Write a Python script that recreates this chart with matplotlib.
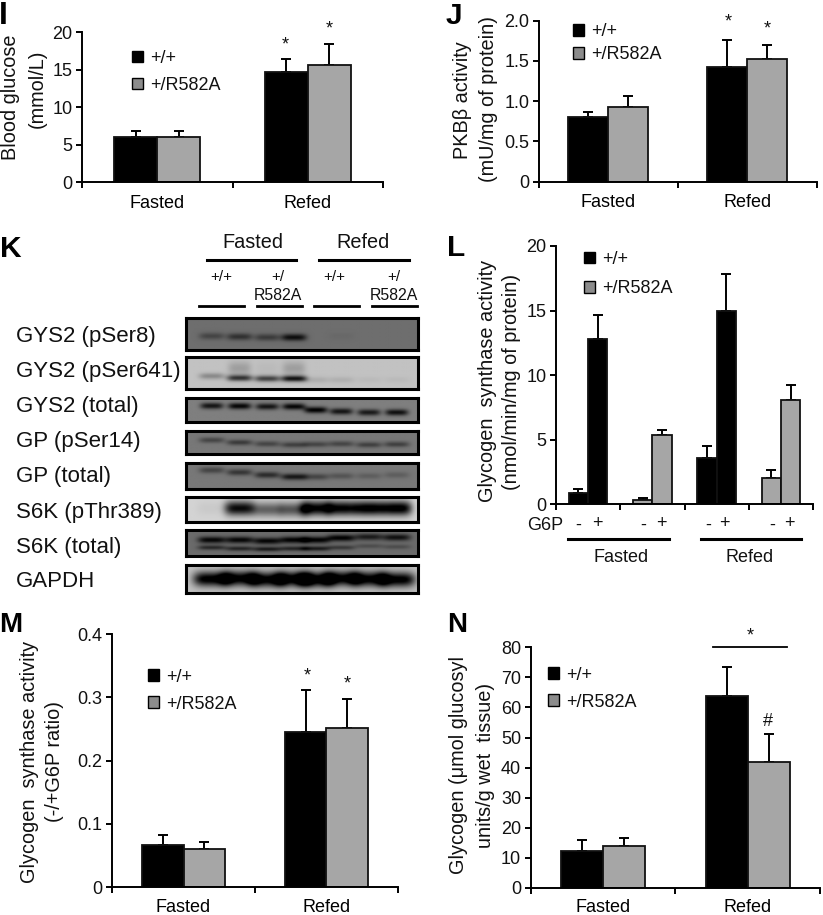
import numpy as np
import matplotlib
matplotlib.use("Agg")
import matplotlib.pyplot as plt
from matplotlib.patches import Patch

plt.rcParams['font.family'] = ['Liberation Sans', 'DejaVu Sans']
plt.rcParams['text.color'] = '#111111'

W, H = 823, 915
BLACK = '#000000'
GREY = '#a6a6a6'

groups = ['Fasted', 'Refed']
legend_labels = ['+/+', '+/R582A']

# bar heights and the tops of the error bars
i_wt = [6.0, 14.7]
i_mut = [6.1, 15.6]
i_wt_top = [6.85, 16.4]
i_mut_top = [6.85, 18.5]

j_wt = [0.80, 1.42]
j_mut = [0.93, 1.53]
j_wt_top = [0.87, 1.76]
j_mut_top = [1.06, 1.70]

l_vals = [0.85, 12.8, 0.3, 5.35, 3.6, 14.95, 2.05, 8.1]
l_tops = [1.2, 14.65, 0.5, 5.75, 4.5, 17.85, 2.6, 9.25]
l_cols = [BLACK, BLACK, GREY, GREY, BLACK, BLACK, GREY, GREY]

m_wt = [0.066, 0.245]
m_mut = [0.060, 0.251]
m_wt_top = [0.082, 0.312]
m_mut_top = [0.071, 0.298]

n_wt = [12.3, 63.7]
n_mut = [13.9, 42.0]
n_wt_top = [15.8, 73.4]
n_mut_top = [16.6, 51.2]

# western blot: band strength and height in each of the 8 lanes
blot_names = ['GYS2 (pSer8)', 'GYS2 (pSer641)', 'GYS2 (total)', 'GP (pSer14)',
              'GP (total)', 'S6K (pThr389)', 'S6K (total)', 'GAPDH']
lanes = [0.11, 0.23, 0.35, 0.465, 0.56, 0.67, 0.79, 0.91]

pser8_amp = [0.16, 0.24, 0.2, 0.38, 0.0, 0.02, 0.0, 0.0]
pser8_y = [0.6, 0.62, 0.64, 0.64, 0.6, 0.6, 0.6, 0.6]
pser641_amp = [0.22, 0.55, 0.5, 0.68, 0.08, 0.07, 0.03, 0.03]
pser641_y = [0.6, 0.66, 0.68, 0.68, 0.72, 0.72, 0.72, 0.72]
pser641_smear = [0.0, 0.14, 0.03, 0.14, 0.0, 0.0, 0.0, 0.0]
gys_amp = [0.42, 0.48, 0.42, 0.48, 0.5, 0.42, 0.4, 0.44]
gys_y = [0.35, 0.36, 0.38, 0.38, 0.52, 0.58, 0.62, 0.62]
gp14_amp = [0.2, 0.24, 0.2, 0.22, 0.2, 0.2, 0.22, 0.22]
gp14_y = [0.42, 0.52, 0.58, 0.62, 0.6, 0.58, 0.62, 0.6]
gp_amp = [0.2, 0.26, 0.3, 0.38, 0.2, 0.14, 0.1, 0.1]
gp_y = [0.3, 0.38, 0.48, 0.55, 0.55, 0.52, 0.52, 0.48]
pthr_amp = [0.04, 0.8, 0.45, 0.5, 0.85, 0.85, 0.9, 0.9]
pthr_y = [0.45, 0.45, 0.5, 0.5, 0.45, 0.45, 0.45, 0.45]
s6k_top_amp = [0.4, 0.4, 0.4, 0.42, 0.42, 0.42, 0.32, 0.36]
s6k_top_y = [0.38, 0.38, 0.42, 0.38, 0.38, 0.3, 0.26, 0.28]
s6k_low_amp = [0.26, 0.28, 0.32, 0.28, 0.32, 0.2, 0.12, 0.12]
s6k_low_y = [0.68, 0.72, 0.74, 0.72, 0.72, 0.68, 0.62, 0.65]
gapdh_amp = [0.82, 0.82, 0.82, 0.82, 0.82, 0.82, 0.82, 0.82]
gapdh_y = [0.5, 0.48, 0.52, 0.5, 0.52, 0.48, 0.5, 0.52]

fig = plt.figure(figsize=(W / 100, H / 100), dpi=100)


def put(x, y, s, size=13, **kw):
    kw.setdefault('ha', 'center')
    kw.setdefault('va', 'center')
    return fig.text(x / W, 1 - y / H, s, fontsize=size, **kw)


def line(x0, x1, y, lw=2.2):
    fig.add_artist(plt.Line2D([x0 / W, x1 / W], [1 - y / H, 1 - y / H], color=BLACK, lw=lw))


def make_axes(x0, x1, y_zero, y_top, ymax, yticks, ticklabels, ngroups=2):
    ax = fig.add_axes([x0 / W, 1 - y_zero / H, (x1 - x0) / W, (y_zero - y_top) / H])
    ax.set_xlim(0, ngroups)
    ax.set_ylim(0, ymax)
    ax.patch.set_alpha(0)
    for s in ['top', 'right']:
        ax.spines[s].set_visible(False)
    for s in ['left', 'bottom']:
        ax.spines[s].set_linewidth(1.4)
    ax.set_yticks(yticks)
    ax.set_yticklabels(ticklabels)
    ax.set_xticks(range(ngroups + 1))
    ax.set_xticklabels([])
    ax.tick_params(axis='both', length=4, width=1.4, labelsize=13, pad=3, labelcolor='#111111')
    return ax


def two_bars(ax, wt, mut, wt_top, mut_top, width, pad=9):
    x = np.arange(len(groups)) + 0.5
    for xs, vals, tops, col in [(x - width / 2, wt, wt_top, BLACK), (x + width / 2, mut, mut_top, GREY)]:
        vals = np.array(vals)
        ax.errorbar(xs, vals, yerr=[np.zeros(len(vals)), np.array(tops) - vals], fmt='none',
                    ecolor=BLACK, elinewidth=1.4, capsize=3.6, capthick=1.4, zorder=1)
        ax.bar(xs, vals, width, color=col, edgecolor='#111111', linewidth=1.3, zorder=2)
    ax.set_xticks(x, minor=True)
    ax.set_xticklabels(groups, minor=True)
    ax.tick_params(axis='x', which='minor', length=0, labelsize=13, pad=pad)


def add_legend(ax, x, y, spacing):
    handles = [Patch(facecolor=BLACK, edgecolor=BLACK, linewidth=1.0),
               Patch(facecolor='#8c8c8c', edgecolor=BLACK, linewidth=1.0)]
    ax.legend(handles, legend_labels, loc='upper left', bbox_to_anchor=(x / W, 1 - y / H),
              bbox_transform=fig.transFigure, frameon=False, fontsize=13, handlelength=0.62,
              handleheight=0.62, handletextpad=0.4, borderpad=0, borderaxespad=0,
              labelspacing=spacing)


# panel I
ax = make_axes(82.3, 382.7, 182.3, 32.3, 20, [0, 5, 10, 15, 20], ['0', '5', '10', '15', '20'])
two_bars(ax, i_wt, i_mut, i_wt_top, i_mut_top, 43 / 150)
add_legend(ax, 132, 50, 0.55)
put(11, 97.5, 'Blood glucose', 14.3, rotation=90)
put(37, 89, '(mmol/L)', 14.3, rotation=90)
put(285.7, 45, '*')
put(329, 29, '*')

# panel J
ax = make_axes(539, 816.7, 181.7, 20.7, 2.0, [0, 0.5, 1.0, 1.5, 2.0], ['0', '0.5', '1.0', '1.5', '2.0'])
two_bars(ax, j_wt, j_mut, j_wt_top, j_mut_top, 40 / 139)
add_legend(ax, 572.7, 23.5, 0.31)
put(462.7, 100, 'PKBβ activity', 14.3, rotation=90)
put(488.7, 99, '(mU/mg of protein)', 14.3, rotation=90)
put(728, 22, '*')
put(767, 29, '*')

# panel K
for name, bg, bands, top, bottom, base in [
    (blot_names[0], 0.43, [(pser8_amp, pser8_y, 0.11, 0.055)], 316.7, 351, 341.7),
    (blot_names[1], 0.76, [(pser641_amp, pser641_y, 0.1, 0.055), (pser641_smear, [0.35] * 8, 0.22, 0.05)], 356, 390.7, 376.7),
    (blot_names[2], 0.5, [(gys_amp, gys_y, 0.13, 0.05)], 396, 423, 411.7),
    (blot_names[3], 0.47, [(gp14_amp, gp14_y, 0.12, 0.055)], 429, 455.7, 446.7),
    (blot_names[4], 0.47, [(gp_amp, gp_y, 0.12, 0.055)], 461, 490.3, 481.7),
    (blot_names[5], 0.83, [(pthr_amp, pthr_y, 0.3, 0.065)], 495.7, 523.3, 517.7),
    (blot_names[6], 0.42, [(s6k_top_amp, s6k_top_y, 0.13, 0.06), (s6k_low_amp, s6k_low_y, 0.09, 0.06)], 528.3, 557.3, 552.7),
    (blot_names[7], 0.76, [(gapdh_amp, gapdh_y, 0.27, 0.08)], 563.7, 594, 587.3),
]:
    ax = fig.add_axes([185.5 / W, 1 - (bottom - 1.5) / H, 232 / W, (bottom - top - 3) / H])
    yy, xx = np.mgrid[0:1:40j, 0:1:240j]
    img = np.full(xx.shape, bg)
    for amps, ys, thick, wide in bands:
        for lx, a, yc in zip(lanes, amps, ys):
            img -= a * np.exp(-((xx - lx) / wide) ** 4) * np.exp(-((yy - yc) / thick) ** 2)
    ax.imshow(np.clip(img, 0, 1), cmap='gray', vmin=0, vmax=1, aspect='auto',
              extent=[0, 1, 1, 0], interpolation='bilinear')
    ax.set_xticks([])
    ax.set_yticks([])
    for s in ax.spines.values():
        s.set_linewidth(2.2)
    put(16.3, base, name, 16, ha='left', va='baseline')

put(252.7, 243, groups[0], 14.3)
put(363, 243, groups[1], 14.3)
line(206.7, 296, 260)
line(319, 408.7, 260)
put(221.7, 276.7, '+/+', 11)
put(278, 276.7, '+/', 11)
put(278, 295.7, 'R582A', 11.4)
put(334.5, 276.7, '+/+', 11)
put(394, 276.7, '+/', 11)
put(394, 295.7, 'R582A', 11.4)
for x0, x1 in [(199, 243.7), (257, 301.7), (314, 358.7), (371.7, 416.7)]:
    line(x0, x1, 306.3, 2.0)

# panel L
ax = make_axes(556, 813, 504, 246, 20, [0, 5, 10, 15, 20], ['0', '5', '10', '15', '20'], ngroups=4)
lw = 0.30
lx = np.array([g + 0.5 + s * lw / 2 for g in range(4) for s in (-1, 1)])
l_arr = np.array(l_vals)
ax.errorbar(lx, l_arr, yerr=[np.zeros(8), np.array(l_tops) - l_arr], fmt='none', ecolor=BLACK,
            elinewidth=1.4, capsize=3.6, capthick=1.4, zorder=1)
ax.bar(lx, l_arr, lw, color=l_cols, edgecolor='#111111', linewidth=1.3, zorder=2)
add_legend(ax, 584, 251, 0.68)
put(487, 381, 'Glycogen  synthase activity', 14.3, rotation=90)
put(512, 381.7, '(nmol/min/mg of protein)', 14.3, rotation=90)
put(563, 526, 'G6P', 13, ha='right')
for x in [578, 643, 708, 772]:
    put(x, 525, '-')
for x in [597, 661, 724, 789]:
    put(x, 524, '+')
line(568, 669, 539)
line(700.7, 800.7, 539)
put(620.7, 557.5, groups[0])
put(750, 557.5, groups[1])

# panel M
ax = make_axes(112, 398, 887, 634.3, 0.4, [0, 0.1, 0.2, 0.3, 0.4], ['0', '0.1', '0.2', '0.3', '0.4'])
two_bars(ax, m_wt, m_mut, m_wt_top, m_mut_top, 41.5 / 143)
add_legend(ax, 148, 668.5, 0.56)
put(30, 761.7, 'Glycogen  synthase activity', 14.3, rotation=90)
put(55, 762, '(-/+G6P ratio)', 14.3, rotation=90)
put(307, 676, '*')
put(347, 684, '*')

# panel N
ax = make_axes(530.7, 820, 888, 647.3, 80, range(0, 90, 10), [str(v) for v in range(0, 90, 10)])
two_bars(ax, n_wt, n_mut, n_wt_top, n_mut_top, 42 / 145, pad=8.2)
add_legend(ax, 548, 666.5, 0.56)
put(459, 765, 'Glycogen (μmol glucosyl', 14.3, rotation=90)
put(486, 765.7, 'units/g wet  tissue)', 14.3, rotation=90)
line(712.7, 786.7, 647.3, 1.3)
put(750, 636, '*')
put(768, 721, '#')

# panel letters
for letter, x, y, size in [('I', -1.5, 24, 23), ('J', 446, 24, 21.5), ('K', 0, 257, 21.5),
                           ('L', 447, 256, 21.5), ('M', -1, 632, 20), ('N', 447, 632, 20)]:
    put(x, y, letter, size, ha='left', va='baseline', fontweight='bold', color=BLACK)

fig.savefig('out.png', dpi=100)
